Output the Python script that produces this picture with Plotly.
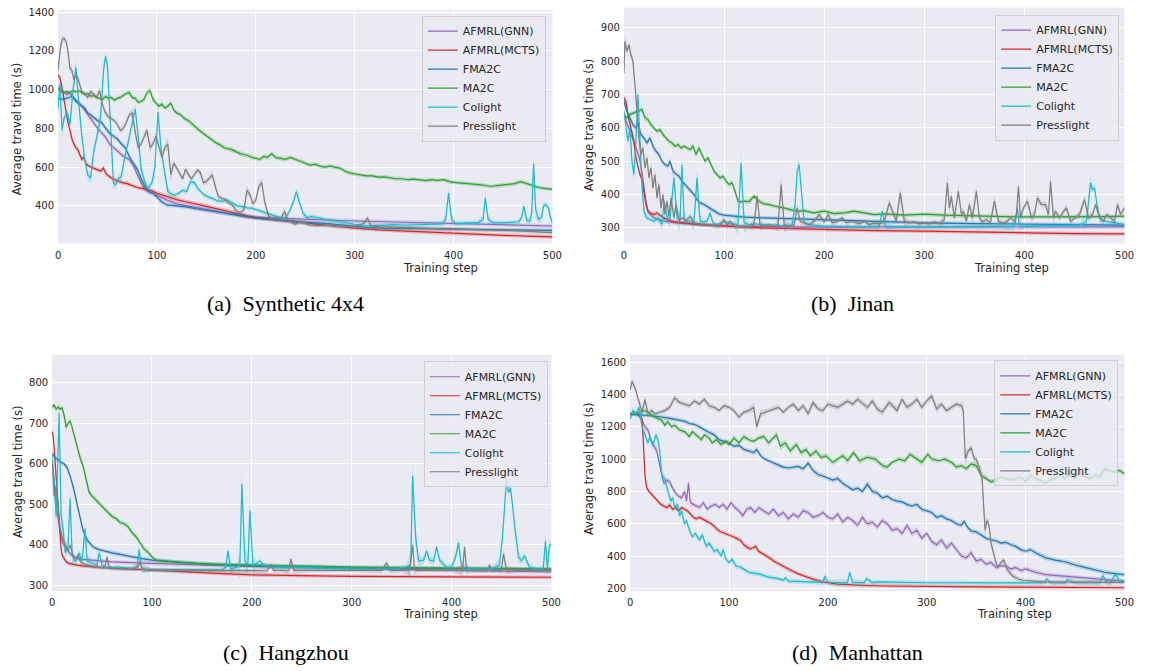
import plotly.graph_objects as go

# ---------------- data (training step, average travel time) ----------------
SERIES_NAMES = ["AFMRL(GNN)", "AFMRL(MCTS)", "FMA2C", "MA2C", "Colight", "Presslight"]
X_TICKS = [0, 100, 200, 300, 400, 500]
A_Y_TICKS = [400, 600, 800, 1000, 1200, 1400]
B_Y_TICKS = [300, 400, 500, 600, 700, 800, 900]
C_Y_TICKS = [300, 400, 500, 600, 700, 800]
D_Y_TICKS = [200, 400, 600, 800, 1000, 1200, 1400, 1600]
CAPTIONS = ["(a)\u2002Synthetic 4x4", "(b)\u2002Jinan", "(c)\u2002Hangzhou", "(d)\u2002Manhattan"]
X_TITLE = "Training step"
Y_TITLE = "Average travel time (s)"

# ---- (a) Synthetic 4x4
A_GNN = [(0,1000),(3,995),(6,985),(9,975),(12,985),(15,960),(18,945),(21,935),(24,915),(27,895),(30,875),(33,850),(36,830),(40,800),(44,780),(48,755),(52,720),(56,700),(60,685),(64,665),(68,650),(72,640),(76,610),(80,560),(84,520),(88,485),(92,470),(96,465),(100,455),(110,430),(120,410),(130,400),(140,390),(150,380),(160,370),(170,362),(180,355),(190,348),(200,342),(215,338),(230,335),(245,332),(260,328),(280,325),(300,322),(330,318),(360,314),(390,310),(420,305),(450,302),(480,299),(500,296)]
A_MCTS = [(0,1075),(2,1060),(4,1010),(6,950),(8,880),(10,830),(12,790),(14,745),(16,720),(18,700),(20,690),(22,660),(24,640),(26,650),(28,620),(30,610),(33,600),(36,595),(40,585),(43,580),(46,595),(48,570),(51,555),(55,540),(60,530),(65,520),(70,515),(75,505),(80,495),(85,490),(90,482),(95,478),(100,465),(110,448),(120,432),(130,420),(140,410),(150,397),(160,386),(170,375),(180,362),(190,348),(200,338),(220,327),(240,316),(260,305),(280,295),(300,285),(325,276),(350,270),(375,264),(400,258),(425,252),(450,248),(475,244),(500,240)]
A_FMA2C = [(0,955),(5,950),(10,958),(15,965),(18,940),(21,925),(24,915),(27,905),(30,880),(33,870),(36,855),(40,840),(44,830),(48,800),(52,775),(56,760),(60,745),(64,720),(68,700),(72,655),(76,620),(80,590),(84,540),(88,500),(92,475),(96,465),(100,445),(105,420),(110,405),(120,400),(130,395),(140,385),(150,378),(160,370),(170,362),(180,352),(190,343),(200,337),(210,333),(220,328),(235,322),(250,316),(270,310),(290,300),(310,290),(330,285),(360,282),(390,279),(420,278),(450,276),(480,275),(500,274)]
A_MA2C = [(0,1010),(3,995),(6,985),(9,990),(12,985),(15,995),(18,990),(21,995),(24,985),(27,975),(30,980),(33,965),(36,970),(39,960),(42,955),(45,950),(48,965),(51,955),(54,960),(57,945),(60,955),(63,960),(66,970),(69,980),(72,985),(75,960),(78,955),(81,935),(84,940),(87,950),(90,985),(93,995),(96,950),(99,930),(102,915),(105,925),(108,905),(111,915),(114,930),(117,895),(120,880),(124,870),(128,850),(132,840),(136,820),(140,800),(144,785),(148,770),(152,755),(156,740),(160,725),(164,715),(168,700),(172,695),(176,690),(180,680),(184,670),(188,665),(192,660),(196,650),(200,645),(204,640),(208,655),(212,650),(216,670),(220,650),(225,645),(230,640),(235,650),(240,640),(245,630),(250,620),(255,610),(260,615),(265,605),(270,600),(275,605),(280,600),(285,595),(290,580),(295,570),(300,565),(306,560),(312,555),(318,555),(324,548),(330,550),(336,545),(342,540),(348,540),(354,535),(360,538),(366,535),(372,530),(378,535),(384,532),(390,535),(396,525),(402,520),(408,518),(414,515),(420,512),(426,510),(432,505),(438,500),(444,505),(450,508),(456,510),(462,515),(468,525),(474,515),(480,505),(486,495),(492,490),(496,488),(500,485)]
A_COLIGHT = [(0,900),(2,1030),(4,790),(6,850),(9,885),(12,820),(15,990),(18,1115),(21,930),(24,760),(27,640),(30,560),(33,545),(36,680),(39,750),(43,860),(46,1100),(48,1170),(50,1120),(52,900),(54,700),(56,520),(58,508),(61,540),(64,550),(67,640),(71,730),(74,800),(78,900),(81,760),(84,590),(88,520),(91,490),(95,520),(98,600),(101,885),(104,700),(107,600),(111,474),(115,460),(118,455),(122,465),(126,480),(130,474),(134,525),(138,520),(141,491),(145,470),(148,456),(152,445),(156,439),(161,425),(166,424),(171,431),(176,415),(181,400),(186,397),(191,390),(196,388),(201,380),(206,371),(211,360),(216,355),(221,345),(226,337),(230,340),(234,371),(238,420),(241,474),(244,420),(248,360),(252,340),(256,345),(262,340),(270,330),(280,322),(290,312),(300,305),(310,300),(320,298),(330,301),(340,303),(350,300),(360,302),(370,305),(380,304),(388,307),(392,330),(395,466),(398,330),(402,308),(410,310),(418,313),(425,315),(430,330),(432,441),(435,330),(440,313),(448,312),(456,313),(462,315),(466,318),(469,340),(471,399),(474,325),(477,322),(479,360),(481,620),(483,380),(486,330),(489,340),(491,400),(493,407),(496,390),(498,340),(500,313)]
A_PRESSLIGHT = [(0,1100),(2,1200),(4,1260),(6,1265),(8,1250),(10,1200),(12,1110),(14,1100),(16,1050),(18,1080),(20,1060),(22,1020),(24,990),(27,980),(30,960),(33,990),(36,975),(39,960),(42,995),(45,920),(48,880),(51,860),(54,850),(57,840),(60,820),(63,790),(66,800),(69,830),(72,870),(75,880),(78,780),(81,700),(84,720),(87,760),(90,790),(93,700),(96,720),(99,760),(102,700),(105,650),(108,700),(111,720),(114,560),(117,620),(120,595),(123,570),(126,540),(129,590),(132,560),(135,540),(138,560),(141,585),(144,570),(147,520),(150,525),(153,545),(156,560),(159,500),(162,450),(165,440),(168,435),(171,420),(174,410),(177,400),(180,375),(184,365),(188,380),(191,480),(194,460),(197,410),(200,430),(203,500),(206,520),(209,420),(213,345),(217,335),(221,340),(225,330),(229,372),(232,330),(236,315),(240,305),(245,320),(250,310),(255,300),(262,298),(270,300),(280,296),(290,293),(300,295),(306,300),(310,315),(313,338),(316,300),(325,292),(335,290),(345,288),(360,285),(380,282),(400,280),(420,277),(440,275),(460,272),(480,267),(500,262)]

# ---- (b) Jinan
B_GNN = [(0,640),(3,615),(6,590),(9,565),(12,540),(15,515),(18,470),(20,420),(22,380),(24,350),(27,338),(30,330),(35,325),(40,320),(50,316),(60,313),(80,309),(100,306),(130,304),(160,303),(200,302),(250,302),(300,302),(350,301),(400,301),(450,302),(500,303)]
B_MCTS = [(0,690),(2,680),(4,640),(6,610),(8,590),(10,560),(12,510),(14,480),(16,460),(18,445),(20,410),(22,370),(24,350),(27,343),(30,340),(33,345),(36,338),(40,330),(45,323),(50,319),(60,315),(70,311),(85,308),(100,305),(120,302),(150,299),(200,295),(250,292),(300,290),(350,287),(400,285),(450,283),(500,282)]
B_FMA2C = [(0,680),(3,650),(6,630),(9,610),(12,600),(14,615),(17,580),(20,570),(23,555),(26,570),(29,545),(32,530),(35,520),(38,500),(41,490),(44,485),(46,500),(49,470),(52,462),(55,455),(58,440),(61,430),(64,420),(67,410),(70,400),(73,385),(76,375),(80,370),(85,360),(90,350),(95,342),(100,338),(110,334),(120,332),(140,330),(160,328),(180,326),(200,324),(230,321),(260,318),(300,315),(350,313),(400,311),(450,309),(500,308)]
B_MA2C = [(0,640),(3,630),(6,640),(9,645),(12,648),(15,650),(18,656),(21,630),(24,625),(27,610),(30,600),(33,590),(36,595),(39,580),(42,570),(45,560),(48,555),(51,545),(54,550),(57,540),(60,545),(63,540),(66,535),(69,545),(72,520),(75,540),(78,520),(81,500),(84,510),(87,490),(90,470),(93,460),(96,450),(99,455),(102,440),(105,430),(108,435),(111,410),(114,380),(117,378),(120,380),(125,379),(130,395),(135,380),(140,372),(145,370),(150,365),(155,362),(160,360),(165,355),(170,352),(175,350),(180,352),(185,348),(190,345),(195,348),(200,350),(210,343),(220,345),(230,350),(240,345),(250,340),(260,342),(270,340),(280,338),(290,340),(300,341),(320,338),(340,336),(360,335),(380,334),(400,333),(420,333),(440,332),(460,333),(480,334),(500,335)]
B_COLIGHT = [(0,650),(2,600),(4,560),(6,600),(8,500),(10,460),(12,560),(14,700),(16,560),(18,430),(20,350),(23,330),(26,325),(30,320),(34,330),(38,310),(40,380),(43,335),(46,325),(50,450),(53,330),(56,320),(58,490),(60,330),(63,320),(66,320),(70,315),(73,450),(76,320),(80,318),(83,320),(86,345),(89,315),(92,310),(95,312),(100,318),(105,315),(110,313),(114,310),(117,495),(120,315),(125,310),(130,312),(140,310),(150,308),(160,307),(168,308),(171,370),(173,470),(175,490),(177,420),(180,315),(185,310),(190,308),(200,305),(220,304),(240,303),(255,305),(258,350),(261,305),(270,303),(290,303),(310,303),(330,303),(350,303),(370,304),(390,305),(393,360),(395,305),(400,305),(420,306),(440,307),(455,308),(462,320),(466,435),(468,415),(470,420),(472,380),(475,330),(480,320),(490,315),(500,310)]
B_PRESSLIGHT = [(0,765),(1,860),(3,830),(5,850),(7,820),(9,800),(11,730),(13,640),(15,570),(17,520),(19,540),(21,480),(23,510),(25,450),(27,480),(29,420),(31,460),(33,390),(35,430),(37,360),(39,400),(41,340),(43,380),(45,335),(47,390),(50,330),(52,370),(55,325),(58,330),(62,320),(66,335),(70,315),(75,312),(80,310),(85,308),(90,306),(95,305),(100,325),(103,308),(106,320),(110,305),(115,303),(120,305),(125,303),(130,310),(133,395),(136,308),(140,305),(145,310),(150,303),(154,310),(157,430),(160,310),(165,305),(170,308),(173,360),(176,320),(180,315),(185,310),(190,320),(195,340),(200,318),(204,340),(208,315),(212,318),(218,330),(222,315),(228,320),(235,312),(240,320),(245,310),(250,315),(255,312),(260,318),(265,375),(269,345),(272,320),(276,405),(280,320),(285,315),(290,318),(295,312),(300,315),(305,312),(310,318),(315,312),(320,325),(323,435),(325,360),(327,395),(330,330),(334,410),(337,340),(339,350),(342,320),(345,370),(348,330),(352,410),(355,330),(358,318),(362,325),(366,315),(370,380),(374,320),(378,315),(382,318),(386,330),(390,320),(392,340),(394,425),(396,330),(399,360),(403,380),(407,330),(410,340),(413,390),(417,370),(421,370),(424,340),(426,440),(429,330),(431,350),(435,330),(438,345),(442,360),(446,320),(450,330),(455,340),(460,385),(464,330),(468,340),(471,370),(475,330),(479,320),(482,340),(486,330),(490,320),(493,370),(496,340),(500,360)]

# ---- (c) Hangzhou
C_GNN = [(0,600),(2,560),(4,500),(6,460),(8,430),(10,410),(12,398),(15,388),(18,378),(22,370),(26,366),(30,364),(40,362),(50,360),(60,358),(80,356),(100,354),(130,351),(160,349),(200,347),(250,344),(300,342),(350,339),(400,337),(450,335),(500,333)]
C_MCTS = [(0,680),(1,670),(2,640),(3,600),(4,560),(5,520),(6,480),(7,440),(8,410),(9,390),(10,375),(12,365),(14,358),(17,354),(20,352),(25,350),(30,348),(40,346),(50,344),(60,342),(80,340),(100,338),(130,334),(160,330),(200,326),(250,324),(300,322),(400,321),(500,320)]
C_FMA2C = [(0,625),(3,615),(6,610),(9,603),(12,600),(15,590),(18,570),(20,555),(22,535),(25,500),(28,468),(31,435),(35,412),(38,402),(41,395),(45,390),(50,386),(55,383),(60,380),(70,375),(80,370),(90,366),(100,362),(120,358),(140,355),(160,352),(180,350),(200,348),(250,345),(300,343),(350,342),(400,341),(450,341),(500,340)]
C_MA2C = [(0,740),(2,745),(4,735),(6,740),(8,735),(10,738),(12,720),(14,690),(16,700),(18,705),(20,690),(22,670),(25,645),(28,615),(31,595),(34,560),(37,530),(40,520),(44,510),(48,500),(52,490),(56,480),(60,470),(64,465),(68,455),(72,452),(76,445),(80,430),(84,420),(88,405),(92,390),(96,382),(100,370),(104,362),(108,361),(112,360),(120,358),(130,356),(140,355),(150,353),(165,352),(180,351),(200,350),(220,349),(240,348),(260,347),(280,346),(300,345),(340,344),(380,343),(420,342),(460,341),(500,340)]
C_COLIGHT = [(0,620),(2,560),(4,470),(7,725),(9,470),(11,440),(13,380),(16,400),(18,515),(20,380),(22,360),(24,360),(27,380),(30,360),(33,440),(35,360),(40,355),(45,350),(47,381),(50,350),(53,345),(60,343),(65,345),(80,342),(85,345),(87,388),(90,340),(100,338),(150,338),(170,338),(174,345),(176,385),(179,340),(185,345),(188,350),(190,550),(193,360),(196,350),(198,485),(201,350),(205,355),(208,360),(212,350),(220,345),(240,345),(300,340),(340,340),(355,345),(359,350),(361,570),(364,420),(367,360),(372,362),(375,385),(378,362),(382,360),(385,395),(388,362),(395,345),(400,345),(404,370),(407,405),(410,345),(420,340),(440,340),(448,350),(451,420),(453,500),(455,560),(457,530),(459,540),(461,500),(463,450),(467,370),(470,360),(473,373),(478,345),(485,340),(490,338),(492,345),(494,410),(496,340),(498,400),(500,400)]
C_PRESSLIGHT = [(0,600),(2,520),(4,545),(6,500),(8,440),(10,420),(12,405),(14,395),(16,385),(18,400),(20,380),(22,370),(24,365),(26,375),(28,360),(30,355),(35,350),(40,347),(45,345),(50,343),(53,345),(55,370),(57,345),(60,342),(70,341),(80,340),(86,345),(88,360),(90,340),(100,338),(130,337),(160,337),(200,336),(215,336),(219,350),(222,337),(230,337),(237,336),(239,365),(242,337),(260,337),(300,337),(330,337),(335,355),(338,337),(350,337),(358,338),(361,400),(363,338),(366,337),(375,337),(400,337),(411,338),(413,395),(415,338),(418,337),(425,337),(436,337),(438,350),(440,337),(446,337),(450,338),(452,378),(455,338),(470,337),(500,337)]

# ---- (d) Manhattan
D_GNN = [(0,1280),(4,1285),(8,1275),(12,1240),(15,1200),(18,1180),(21,1120),(24,1080),(27,1050),(30,960),(32,900),(34,850),(37,870),(40,860),(43,820),(46,790),(49,770),(52,760),(55,800),(57,740),(59,850),(61,730),(64,720),(67,710),(70,700),(74,730),(78,690),(82,710),(86,720),(90,700),(94,720),(98,690),(102,730),(106,700),(110,680),(114,650),(118,690),(122,700),(126,670),(130,700),(135,680),(140,660),(145,690),(150,650),(155,670),(160,630),(165,660),(170,640),(175,680),(180,670),(185,640),(190,650),(195,670),(200,640),(205,630),(210,660),(215,610),(220,640),(225,620),(230,590),(235,640),(240,600),(245,610),(250,580),(255,620),(260,600),(265,560),(270,570),(275,540),(280,590),(285,540),(290,560),(295,510),(300,540),(305,490),(310,470),(315,500),(320,450),(325,480),(330,440),(335,400),(340,390),(345,420),(350,370),(355,380),(360,350),(365,360),(370,330),(375,340),(380,340),(385,320),(390,330),(395,310),(400,320),(410,300),(420,285),(430,280),(440,275),(450,268),(460,262),(470,258),(480,252),(490,248),(500,245)]
D_MCTS = [(0,1280),(5,1280),(10,1275),(12,1250),(13,1150),(14,1000),(15,900),(16,850),(17,820),(19,800),(22,780),(25,760),(28,740),(31,720),(34,710),(37,700),(40,715),(43,690),(46,700),(49,680),(52,700),(55,690),(58,680),(61,660),(64,640),(67,630),(70,640),(73,630),(76,620),(79,615),(82,600),(85,585),(88,565),(91,552),(94,545),(97,540),(100,530),(103,525),(106,515),(109,505),(112,495),(115,470),(118,455),(121,445),(124,450),(127,460),(130,430),(133,420),(136,405),(139,395),(142,385),(145,370),(148,360),(151,350),(154,340),(157,328),(160,318),(165,305),(170,290),(175,278),(180,268),(185,257),(190,248),(195,240),(200,235),(210,226),(220,222),(240,218),(260,215),(280,213),(300,212),(350,210),(400,208),(450,206),(500,204)]
D_FMA2C = [(0,1280),(10,1275),(20,1270),(30,1262),(40,1252),(50,1240),(55,1235),(60,1220),(65,1215),(70,1200),(75,1180),(80,1165),(85,1150),(90,1120),(95,1110),(100,1100),(105,1080),(110,1085),(115,1060),(120,1050),(125,1040),(128,1060),(132,1020),(136,1000),(140,990),(145,975),(150,960),(155,950),(160,945),(165,950),(170,955),(175,940),(180,975),(185,930),(190,905),(195,895),(200,880),(205,870),(210,880),(215,850),(220,830),(225,810),(230,820),(235,800),(240,845),(245,800),(250,790),(255,760),(260,770),(265,750),(270,740),(275,735),(280,720),(285,710),(290,720),(295,690),(300,680),(305,670),(310,640),(315,650),(320,630),(325,620),(330,600),(335,590),(338,615),(341,580),(345,555),(350,550),(355,530),(360,510),(365,500),(370,495),(375,480),(380,485),(385,470),(390,460),(395,440),(400,430),(405,440),(410,420),(420,390),(430,375),(440,365),(450,345),(460,330),(470,315),(480,300),(490,292),(500,285)]
D_MA2C = [(0,1280),(5,1280),(10,1290),(15,1300),(20,1280),(25,1260),(28,1250),(32,1240),(35,1210),(38,1230),(42,1200),(45,1210),(50,1180),(55,1170),(60,1140),(63,1170),(67,1150),(72,1120),(75,1150),(80,1130),(83,1100),(87,1120),(92,1090),(97,1110),(100,1090),(105,1130),(110,1100),(115,1140),(120,1120),(125,1110),(130,1130),(135,1140),(140,1100),(145,1130),(148,1150),(152,1080),(157,1100),(162,1050),(168,1090),(173,1040),(178,1060),(182,1020),(188,1050),(193,1010),(198,1020),(205,980),(210,1000),(215,1020),(220,990),(226,1040),(232,990),(240,1010),(248,1000),(255,960),(260,950),(265,980),(272,1000),(278,990),(283,1030),(290,1000),(295,980),(301,1030),(305,1000),(312,990),(318,1000),(325,980),(330,950),(335,960),(340,940),(345,970),(350,960),(355,900),(360,880),(365,860),(370,870),(375,890),(380,880),(385,870),(390,880),(395,890),(400,860),(405,900),(410,880),(415,870),(420,850),(425,870),(430,880),(435,900),(440,880),(445,910),(450,880),(455,920),(460,890),(465,880),(470,900),(475,890),(480,940),(485,930),(490,920),(495,930),(500,910)]
D_COLIGHT = [(0,1250),(3,1300),(6,1280),(9,1320),(12,1200),(15,1150),(18,1100),(20,1140),(23,1080),(26,1150),(28,1120),(30,1050),(32,900),(35,880),(38,800),(41,740),(43,760),(45,700),(48,720),(50,650),(52,680),(55,600),(57,620),(60,560),(63,520),(66,540),(70,500),(73,530),(77,460),(80,480),(85,430),(88,440),(92,400),(94,440),(97,380),(100,360),(103,380),(107,340),(112,330),(120,300),(130,290),(140,270),(150,260),(155,250),(157,265),(160,245),(180,240),(195,238),(197,275),(200,238),(220,236),(222,300),(225,237),(237,236),(239,260),(245,236),(250,240),(300,235),(400,234),(420,236),(421,260),(425,236),(440,234),(442,255),(450,235),(475,235),(478,280),(482,240),(486,235),(491,290),(495,245),(500,245)]
D_PRESSLIGHT = [(0,1430),(2,1480),(5,1440),(8,1380),(10,1330),(12,1290),(15,1370),(18,1280),(22,1300),(25,1280),(30,1290),(35,1300),(40,1320),(45,1380),(50,1350),(55,1340),(60,1330),(65,1360),(70,1340),(75,1370),(80,1330),(85,1320),(90,1300),(95,1330),(100,1320),(105,1300),(110,1260),(115,1290),(120,1300),(125,1320),(128,1200),(132,1280),(140,1300),(150,1320),(155,1290),(160,1320),(165,1340),(170,1300),(175,1330),(180,1280),(185,1350),(190,1310),(195,1300),(200,1340),(210,1320),(220,1360),(225,1340),(230,1370),(240,1320),(245,1360),(250,1310),(255,1290),(262,1350),(270,1300),(275,1370),(280,1320),(285,1340),(290,1370),(295,1320),(300,1360),(305,1390),(310,1310),(315,1340),(320,1300),(325,1320),(330,1340),(335,1330),(337,1300),(339,1000),(342,1050),(345,1070),(348,1000),(350,1000),(353,950),(356,880),(359,560),(361,620),(363,590),(365,480),(367,430),(370,360),(372,330),(375,360),(378,375),(381,320),(383,306),(387,276),(392,260),(398,249),(420,240),(450,238),(480,235),(500,237)]

# ---------------- styling / layout ----------------
W, H = 1151, 671
COLORS = ["#9467bd", "#d62728", "#1f77b4", "#2ca02c", "#17becf", "#7f7f7f"]
BG = "#EAEAF2"
TXT = "#262626"
SANS = "DejaVu Sans"
SERIF = "Liberation Serif"

PANELS = [
    dict(series=[A_GNN, A_MCTS, A_FMA2C, A_MA2C, A_COLIGHT, A_PRESSLIGHT], yticks=A_Y_TICKS,
         box=(55.7, 555.7, 6.7, 242.7), yr=(205.6, 1413), leg=(549, 12.7),
         xt=(443, 267), yt=(14.5, 127), cap=(286, 303)),
    dict(series=[B_GNN, B_MCTS, B_FMA2C, B_MA2C, B_COLIGHT, B_PRESSLIGHT], yticks=B_Y_TICKS,
         box=(628, 1134.4, 4.7, 242.7), yr=(253, 961), leg=(1129, 11.7),
         xt=(1020, 267), yt=(593, 123), cap=(859, 303)),
    dict(series=[C_GNN, C_MCTS, C_FMA2C, C_MA2C, C_COLIGHT, C_PRESSLIGHT], yticks=C_Y_TICKS,
         box=(49.7, 554.7, 355, 593.3), yr=(286, 869), leg=(551, 361.5),
         xt=(443, 617), yt=(14.5, 473), cap=(286, 655)),
    dict(series=[D_GNN, D_MCTS, D_FMA2C, D_MA2C, D_COLIGHT, D_PRESSLIGHT], yticks=D_Y_TICKS,
         box=(634.3, 1134.3, 355, 593.3), yr=(184, 1645), leg=(1128, 360.7),
         xt=(1023, 617), yt=(592, 470), cap=(864, 655)),
]


def rgba(hex_color, a):
    h = hex_color.lstrip("#")
    r, g, b = int(h[0:2], 16), int(h[2:4], 16), int(h[4:6], 16)
    return f"rgba({r},{g},{b},{a})"


def band(ys, base, k=0.15):
    n = len(ys)
    hw = []
    for i in range(n):
        d = 0.0
        if i > 0:
            d = max(d, abs(ys[i] - ys[i - 1]))
        if i < n - 1:
            d = max(d, abs(ys[i + 1] - ys[i]))
        hw.append(base + k * d)
    return hw


fig = go.Figure()
annotations = []
layout_extra = {}

for p_i, p in enumerate(PANELS):
    n = p_i + 1
    xa = "x" if n == 1 else f"x{n}"
    ya = "y" if n == 1 else f"y{n}"
    leg_id = "legend" if n == 1 else f"legend{n}"
    x0, x1, top, bot = p["box"]
    ylo, yhi = p["yr"]
    base = (yhi - ylo) / (bot - top) * 1.8

    for s_i, pts in enumerate(p["series"]):
        xs = [q[0] for q in pts]
        ys = [q[1] for q in pts]
        hw = band(ys, base)
        up = [y + h for y, h in zip(ys, hw)]
        lo = [y - h for y, h in zip(ys, hw)]
        fig.add_trace(go.Scatter(
            x=xs + xs[::-1], y=up + lo[::-1], fill="toself", mode="lines",
            line=dict(width=0, color=rgba(COLORS[s_i], 0)),
            fillcolor=rgba(COLORS[s_i], 0.25), hoverinfo="skip",
            showlegend=False, xaxis=xa, yaxis=ya))
        fig.add_trace(go.Scatter(
            x=xs, y=ys, mode="lines", name=SERIES_NAMES[s_i],
            line=dict(color=COLORS[s_i], width=1.2),
            xaxis=xa, yaxis=ya, legend=leg_id, showlegend=True))

    axis_common = dict(showgrid=True, gridcolor="white", gridwidth=1, zeroline=False,
                       showline=False, ticks="", tickfont=dict(family=SANS, size=10, color=TXT))
    layout_extra["xaxis" if n == 1 else f"xaxis{n}"] = dict(
        domain=[x0 / W, x1 / W], range=[0, 500], tickvals=X_TICKS,
        anchor=ya, ticklabelstandoff=4, **axis_common)
    layout_extra["yaxis" if n == 1 else f"yaxis{n}"] = dict(
        domain=[1 - bot / H, 1 - top / H], range=[ylo, yhi], tickvals=p["yticks"],
        anchor=xa, ticklabelstandoff=3, **axis_common)
    lx, ly = p["leg"]
    layout_extra[leg_id] = dict(
        x=lx / W, y=1 - ly / H, xanchor="right", yanchor="top",
        bgcolor="rgba(234,234,242,0.8)", bordercolor="rgba(204,204,204,0.9)", borderwidth=1,
        font=dict(family=SANS, size=11, color=TXT), itemwidth=30, tracegroupgap=0)

    annotations.append(dict(text=X_TITLE, x=p["xt"][0] / W, y=1 - p["xt"][1] / H,
                            xref="paper", yref="paper", showarrow=False,
                            xanchor="center", yanchor="middle",
                            font=dict(family=SANS, size=11.5, color=TXT)))
    annotations.append(dict(text=Y_TITLE, x=p["yt"][0] / W, y=1 - p["yt"][1] / H,
                            xref="paper", yref="paper", showarrow=False, textangle=-90,
                            xanchor="center", yanchor="middle",
                            font=dict(family=SANS, size=11.5, color=TXT)))
    annotations.append(dict(text=CAPTIONS[p_i], x=p["cap"][0] / W, y=1 - p["cap"][1] / H,
                            xref="paper", yref="paper", showarrow=False,
                            xanchor="center", yanchor="middle",
                            font=dict(family=SERIF, size=22, color="black")))

fig.update_layout(
    width=W, height=H, margin=dict(l=0, r=0, t=0, b=0),
    paper_bgcolor="white", plot_bgcolor=BG,
    annotations=annotations, hovermode=False,
    **layout_extra)

fig.write_html("out.html", include_plotlyjs=True, full_html=True,
               config={"displayModeBar": False, "responsive": False},
               post_script="document.body.style.margin='0';")
